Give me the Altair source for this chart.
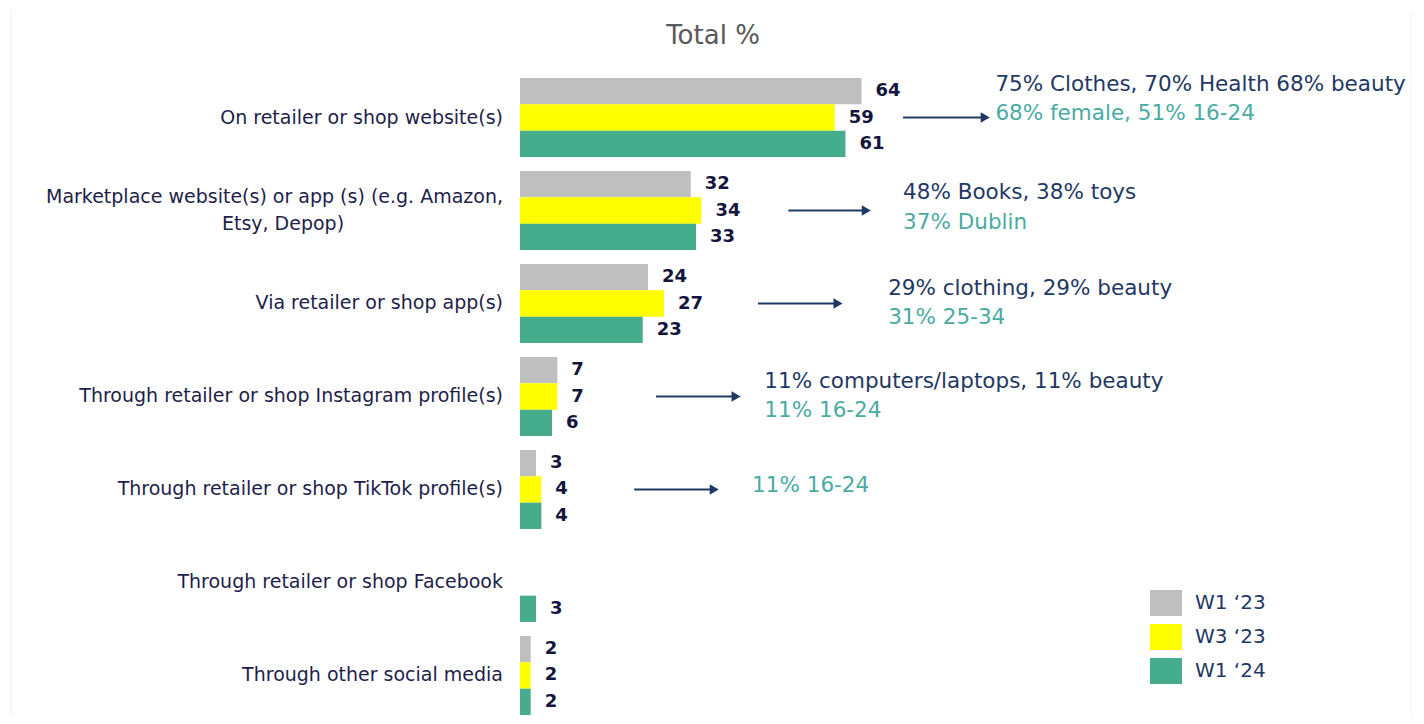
import altair as alt
import pandas as pd

# ---- data ----
categories = [
    "On retailer or shop website(s)",
    "Marketplace website(s) or app (s) (e.g. Amazon, Etsy, Depop)",
    "Via retailer or shop app(s)",
    "Through retailer or shop Instagram profile(s)",
    "Through retailer or shop  TikTok profile(s)",
    "Through retailer or shop Facebook",
    "Through other social media",
]
label_lines = [
    ["On retailer or shop website(s)"],
    ["Marketplace website(s) or app (s) (e.g. Amazon,", "Etsy, Depop)"],
    ["Via retailer or shop app(s)"],
    ["Through retailer or shop Instagram profile(s)"],
    ["Through retailer or shop  TikTok profile(s)"],
    ["Through retailer or shop Facebook"],
    ["Through other social media"],
]
series = ["W1 \u201823", "W3 \u201823", "W1 \u201824"]
w1_23 = [64, 32, 24, 7, 3, None, 2]
w3_23 = [59, 34, 27, 7, 4, None, 2]
w1_24 = [61, 33, 23, 6, 4, 3, 2]

# annotations (category index, arrow start/end in % units, text start, texts)
ann_cat = [0, 1, 2, 3, 4]
ann_arrow_from = [71.8, 50.3, 44.6, 25.5, 21.4]
ann_arrow_to = [87.2, 64.9, 59.6, 40.5, 36.4]
ann_text_x = [89.1, 71.8, 69.0, 45.8, 43.5]
ann_line1 = ["75% Clothes, 70% Health 68% beauty", "48% Books, 38% toys",
             "29% clothing, 29% beauty", "11% computers/laptops, 11% beauty", ""]
ann_line2 = ["68% female, 51% 16-24", "37% Dublin", "31% 25-34", "11% 16-24", "11% 16-24"]
ann_off1 = [-33, -17, -14, -14, 0]
ann_off2 = [-4, 13, 15, 15, -3]

# ---- styling ----
FONT = "DejaVu Sans"
GREY, YELLOW, TEAL = "#bfbfbf", "#ffff00", "#45ad8b"
NAVY = "#1f3864"
ANN_TEAL = "#4aaba3"
LABEL_COL = "#1e1e4a"
VAL_COL = "#14143c"
HALF_BAND = 39.5

rows = []
for i, c in enumerate(categories):
    for s, vals in zip(series, [w1_23, w3_23, w1_24]):
        if vals[i] is not None:
            rows.append({"cat": c, "series": s, "value": vals[i]})
bars_df = pd.DataFrame(rows)

lab_rows, lab2_rows = [], []
for c, lines in zip(categories, label_lines):
    if len(lines) == 1:
        lab_rows.append({"cat": c, "text": lines[0], "off": 0})
    else:
        lab_rows.append({"cat": c, "text": lines[0], "off": -13})
        lab2_rows.append({"cat": c, "text": lines[1], "off": 14})
lab_df = pd.DataFrame(lab_rows)
lab2_df = pd.DataFrame(lab2_rows)

arrow_df = pd.DataFrame({
    "cat": [categories[i] for i in ann_cat],
    "x1": ann_arrow_from, "x2": ann_arrow_to,
})
t1_df = pd.DataFrame({
    "cat": [categories[i] for i in ann_cat], "x": ann_text_x,
    "text": ann_line1, "off": ann_off1,
})
t1_df = t1_df[t1_df["text"] != ""]
t2_df = pd.DataFrame({
    "cat": [categories[i] for i in ann_cat], "x": ann_text_x,
    "text": ann_line2, "off": ann_off2,
})

XMAX = 167
PX_PER_UNIT = 5.333
W = round(XMAX * PX_PER_UNIT)
xscale = alt.Scale(domain=[0, XMAX], nice=False, zero=True)
yscale = alt.Scale(paddingInner=0.1505, paddingOuter=0)
Y = alt.Y("cat:N", sort=categories, scale=yscale, axis=None)
Ymid = alt.Y("cat:N", sort=categories, scale=yscale, axis=None, bandPosition=0.5)
YOFF = alt.YOffset("offc:Q", scale=None)
OFF_CALC = f"datum.off + {HALF_BAND}"

bars = alt.Chart(bars_df).mark_bar().encode(
    y=Y,
    yOffset=alt.YOffset("series:N", sort=series, scale=alt.Scale(paddingInner=0, paddingOuter=0)),
    x=alt.X("value:Q", scale=xscale, axis=None),
    color=alt.Color(
        "series:N",
        scale=alt.Scale(domain=series, range=[GREY, YELLOW, TEAL]),
        legend=alt.Legend(
            orient="none", legendX=633, legendY=512, title=None,
            symbolType="M-1.23,-1L1.23,-1L1.23,1L-1.23,1Z", symbolSize=676,
            symbolStrokeWidth=0, symbolOpacity=1,
            labelFont=FONT, labelFontSize=20, labelColor=NAVY,
            labelOffset=16, rowPadding=8, padding=0,
        ),
    ),
)

values = alt.Chart(bars_df).mark_text(
    align="left", baseline="middle", dx=14, font=FONT, fontSize=18,
    fontWeight="bold", color=VAL_COL,
).encode(
    y=Y,
    yOffset=alt.YOffset("series:N", sort=series),
    x=alt.X("value:Q", scale=xscale, axis=None),
    text=alt.Text("value:Q"),
)

labels = alt.Chart(lab_df).transform_calculate(offc=OFF_CALC).mark_text(
    align="right", baseline="middle", font=FONT, fontSize=19, color=LABEL_COL,
).encode(
    y=Y, yOffset=YOFF, x=alt.value(-17), text="text:N",
)
labels2 = alt.Chart(lab2_df).transform_calculate(offc=OFF_CALC).mark_text(
    align="center", baseline="middle", font=FONT, fontSize=19, color=LABEL_COL,
).encode(
    y=Y, yOffset=YOFF, x=alt.value(-237), text="text:N",
)

arrows = alt.Chart(arrow_df).mark_rule(color=NAVY, strokeWidth=2).encode(
    y=Ymid,
    x=alt.X("x1:Q", scale=xscale, axis=None),
    x2="x2:Q",
)
heads = alt.Chart(arrow_df).mark_point(
    shape="triangle-right", filled=True, color=NAVY, size=110, opacity=1,
).encode(
    y=Ymid,
    x=alt.X("x2:Q", scale=xscale, axis=None),
)

ann1 = alt.Chart(t1_df).transform_calculate(offc=OFF_CALC).mark_text(
    align="left", baseline="middle", font=FONT, fontSize=21.5, color=NAVY,
).encode(
    y=Y, yOffset=YOFF,
    x=alt.X("x:Q", scale=xscale, axis=None),
    text="text:N",
)
ann2 = alt.Chart(t2_df).transform_calculate(offc=OFF_CALC).mark_text(
    align="left", baseline="middle", font=FONT, fontSize=21.5, color=ANN_TEAL,
).encode(
    y=Y, yOffset=YOFF,
    x=alt.X("x:Q", scale=xscale, axis=None),
    text="text:N",
)

title = alt.Chart(pd.DataFrame({"t": ["Total %"]})).mark_text(
    align="center", baseline="middle", font=FONT, fontSize=26, color="#595959",
).encode(x=alt.value(193), y=alt.value(-42), text="t:N")

frame_l = alt.Chart(pd.DataFrame({"s": [0]})).mark_rule(
    color="#ececec", strokeWidth=1,
).encode(x=alt.value(-509), y=alt.value(-68), y2=alt.value(640))
frame_r = alt.Chart(pd.DataFrame({"s": [0]})).mark_rule(
    color="#eef2f4", strokeWidth=1,
).encode(x=alt.value(891), y=alt.value(-68), y2=alt.value(640))

chart = alt.layer(
    frame_l, frame_r, title, bars, values, labels, labels2, arrows, heads, ann1, ann2,
).resolve_scale(yOffset="independent").properties(
    width=W, height=637,
    autosize=alt.AutoSizeParams(type="none"),
    padding={"left": 512, "top": 70, "right": 4, "bottom": 0},
).configure(font=FONT, background="white").configure_view(stroke=None)

chart.save("out.html", embed_options={"renderer": "svg", "actions": False})
